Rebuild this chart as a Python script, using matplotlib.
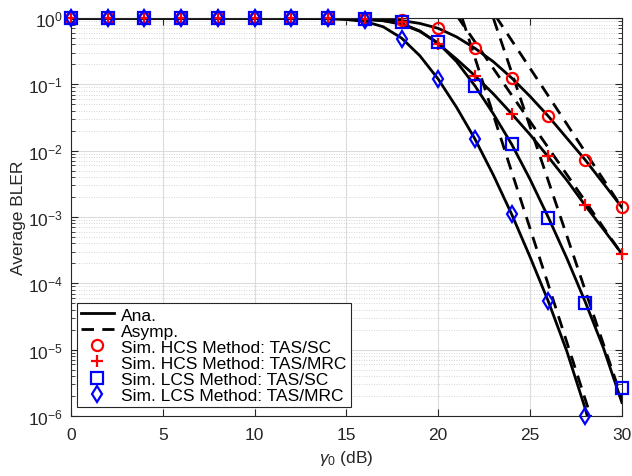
import numpy as np
import matplotlib
matplotlib.use("Agg")
import matplotlib.pyplot as plt
from matplotlib.lines import Line2D
from matplotlib.ticker import FixedLocator, NullFormatter

plt.rcParams["font.family"] = ["Liberation Sans", "DejaVu Sans"]
plt.rcParams["mathtext.fontset"] = "custom"
plt.rcParams["mathtext.rm"] = "Liberation Sans"
plt.rcParams["mathtext.it"] = "Liberation Sans:italic"

# Simulation points (markers)
gamma_sim = [0, 2, 4, 6, 8, 10, 12, 14, 16, 18, 20, 22, 24, 26, 28, 30]
hcs_sc_sim = [1, 1, 1, 1, 1, 1, 1, 1, 0.99, 0.95, 0.70, 0.35, 0.125, 0.033, 0.0073, 0.0014]
hcs_mrc_sim = [1, 1, 1, 1, 1, 1, 1, 1, 0.98, 0.86, 0.41, 0.135, 0.036, 0.0082, 0.0015, 0.00028]
lcs_sc_sim = [1, 1, 1, 1, 1, 1, 1, 1, 0.98, 0.88, 0.43, 0.094, 0.0126, 0.00096, 5.1e-5, 2.6e-6]
lcs_mrc_sim = [1, 1, 1, 1, 1, 1, 1, 1, 0.92, 0.48, 0.12, 0.015, 0.0011, 5.5e-5, 1.0e-6]

# Analytical curves (solid)
gamma_ana = list(range(0, 31))
hcs_sc_ana = [1, 1, 1, 1, 1, 1, 1, 1, 1, 1, 1, 1, 0.999, 0.998, 0.995, 0.99, 0.98, 0.96,
              0.92, 0.83, 0.70, 0.52, 0.35, 0.22, 0.125, 0.066, 0.033, 0.0155, 0.0073, 0.0032, 0.0014]
hcs_mrc_ana = [1, 1, 1, 1, 1, 1, 1, 1, 1, 1, 1, 1, 0.999, 0.997, 0.993, 0.985, 0.96, 0.92,
               0.83, 0.64, 0.41, 0.24, 0.135, 0.072, 0.036, 0.0175, 0.0080, 0.0036, 0.0015, 0.00065, 0.00028]
lcs_sc_ana = [1, 1, 1, 1, 1, 1, 1, 1, 1, 1, 1, 1, 0.999, 0.997, 0.993, 0.985, 0.96, 0.91,
              0.81, 0.63, 0.42, 0.22, 0.095, 0.036, 0.0125, 0.0037, 0.00098, 0.00024, 5.3e-5, 1.05e-5, 1.6e-6]
lcs_mrc_ana = [1, 1, 1, 1, 1, 1, 1, 1, 1, 1, 1, 0.999, 0.997, 0.99, 0.975, 0.95, 0.89, 0.74,
               0.50, 0.27, 0.12, 0.045, 0.015, 0.0043, 0.0011, 0.00025, 5.3e-5, 9.5e-6, 1.3e-6, 1.4e-7, 1.5e-8]

# Asymptotic curves (dashed)
gamma_asy = [20, 22, 24, 26, 28, 30]
hcs_sc_asy = [22.0, 3.19, 0.46, 0.0667, 0.0096, 0.00139]
hcs_mrc_asy = [2.75, 0.437, 0.069, 0.011, 0.00174, 0.000275]
lcs_sc_asy = [288, 6.6, 0.151, 0.00347, 7.9e-5, 1.82e-6]
lcs_mrc_asy = [13.0, 0.251, 0.0048, 9.4e-5, 1.8e-6, 3.5e-8]

y_major = [1e-6, 1e-5, 1e-4, 1e-3, 1e-2, 1e-1, 1]

fig = plt.figure(figsize=(6.32, 4.77), dpi=100)
ax = fig.add_axes([0.1123, 0.1258, 0.8717, 0.8342])

lw = 2.0
dash = (4.5, 3.0)
for y in [hcs_sc_ana, hcs_mrc_ana, lcs_sc_ana, lcs_mrc_ana]:
    ax.plot(gamma_ana, y, "-", color="k", lw=lw)
for y in [hcs_sc_asy, hcs_mrc_asy, lcs_sc_asy, lcs_mrc_asy]:
    ax.plot(gamma_asy, y, "--", color="k", lw=lw, dashes=dash)

ms, mew = 8, 1.6
mk = dict(linestyle="none", markersize=ms, markeredgewidth=mew, clip_on=False, zorder=5)
ax.plot(gamma_sim, hcs_sc_sim, marker="o", mfc="none", mec="red", **mk)
ax.plot(gamma_sim, hcs_mrc_sim, marker="+", mec="red", **mk)
ax.plot(gamma_sim, lcs_sc_sim, marker="s", mfc="none", mec="blue", **mk)
ax.plot(gamma_sim[:len(lcs_mrc_sim)], lcs_mrc_sim, marker="d", mfc="none", mec="blue", **mk)

ax.set_yscale("log")
ax.set_xlim(0, 30)
ax.set_ylim(1e-6, 1)
ax.set_xticks([0, 5, 10, 15, 20, 25, 30])
ax.set_yticks(y_major)
minor = [m * d for d in y_major[:-1] for m in range(2, 10)]
ax.yaxis.set_minor_locator(FixedLocator(minor))
ax.yaxis.set_minor_formatter(NullFormatter())

ax.grid(True, which="major", color="#dcdcdc", lw=0.8)
ax.grid(True, which="minor", axis="y", color="#c8c8c8", lw=0.6, linestyle=(0, (1, 2)))
ax.set_axisbelow(True)

for s in ax.spines.values():
    s.set_color("#262626")
    s.set_linewidth(0.8)
ax.tick_params(which="both", direction="in", top=True, right=True, colors="#262626",
               labelsize=12.5, labelcolor="#262626")
ax.tick_params(which="major", length=5)
ax.tick_params(which="minor", length=3)
ax.tick_params(axis="x", which="major", pad=8)
ax.tick_params(axis="y", which="major", pad=6)

ax.set_xlabel(r"$\gamma_0$ (dB)", fontsize=12.5, color="#262626", labelpad=4)
ax.set_ylabel("Average BLER", fontsize=12.5, color="#262626", labelpad=1)

handles = [
    Line2D([], [], color="k", lw=lw, ls="-"),
    Line2D([], [], color="k", lw=lw, ls="--", dashes=dash),
    Line2D([], [], ls="none", marker="o", mfc="none", mec="red", ms=ms, mew=mew),
    Line2D([], [], ls="none", marker="+", mec="red", ms=ms, mew=mew),
    Line2D([], [], ls="none", marker="s", mfc="none", mec="blue", ms=ms, mew=mew),
    Line2D([], [], ls="none", marker="d", mfc="none", mec="blue", ms=ms, mew=mew),
]
labels = ["Ana.", "Asymp.", "Sim. HCS Method: TAS/SC", "Sim. HCS Method: TAS/MRC",
          "Sim. LCS Method: TAS/SC", "Sim. LCS Method: TAS/MRC"]
leg = ax.legend(handles, labels, loc="lower left", bbox_to_anchor=(0.004, 0.014), fontsize=12.5,
                fancybox=False, framealpha=1, edgecolor="#262626", handlelength=1.9,
                handletextpad=0.4, labelspacing=0.05, borderpad=0.25, borderaxespad=0.2)
leg.get_frame().set_linewidth(0.8)

fig.savefig("out.png", dpi=100)
